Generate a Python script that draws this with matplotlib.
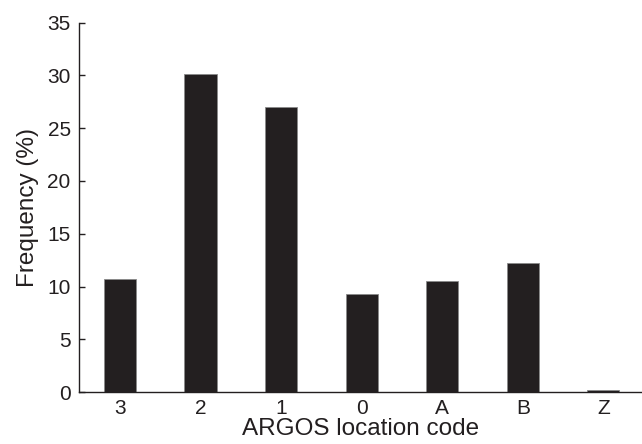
import matplotlib

matplotlib.use("Agg")
import matplotlib.pyplot as plt

plt.rcParams["font.family"] = ["Liberation Sans", "DejaVu Sans"]

C_BAR = "#231f20"
C_TEXT = "#231f20"

codes = ["3", "2", "1", "0", "A", "B", "Z"]
freq = [10.7, 30.1, 27.0, 9.3, 10.5, 12.2, 0.2]
y_ticks = [0, 5, 10, 15, 20, 25, 30, 35]

fig = plt.figure(figsize=(6.42, 4.44), dpi=100)
ax = fig.add_axes([0.123, 0.117, 0.877, 0.832])

x = range(len(codes))
ax.bar(x, freq, width=0.4, color=C_BAR, edgecolor="#8a8a8a", linewidth=0.6)

ax.set_xlim(-0.51, 6.48)
ax.set_ylim(0, 35)
ax.set_xticks(list(x))
ax.set_xticklabels(codes)
ax.set_yticks(y_ticks)

for s in ("top", "right"):
  ax.spines[s].set_visible(False)
for s in ("left", "bottom"):
  ax.spines[s].set_color(C_TEXT)
  ax.spines[s].set_linewidth(1.0)

ax.tick_params(axis="y", direction="in", length=4, width=1.0, color=C_TEXT,
               labelsize=15, labelcolor=C_TEXT, pad=6)
ax.tick_params(axis="x", length=0, labelsize=15, labelcolor=C_TEXT, pad=5)

ax.set_xlabel("ARGOS location code", fontsize=17.5, color=C_TEXT, labelpad=0)
ax.set_ylabel("Frequency (%)", fontsize=17.5, color=C_TEXT, labelpad=6)

fig.savefig("out.png", dpi=100, facecolor="white")
